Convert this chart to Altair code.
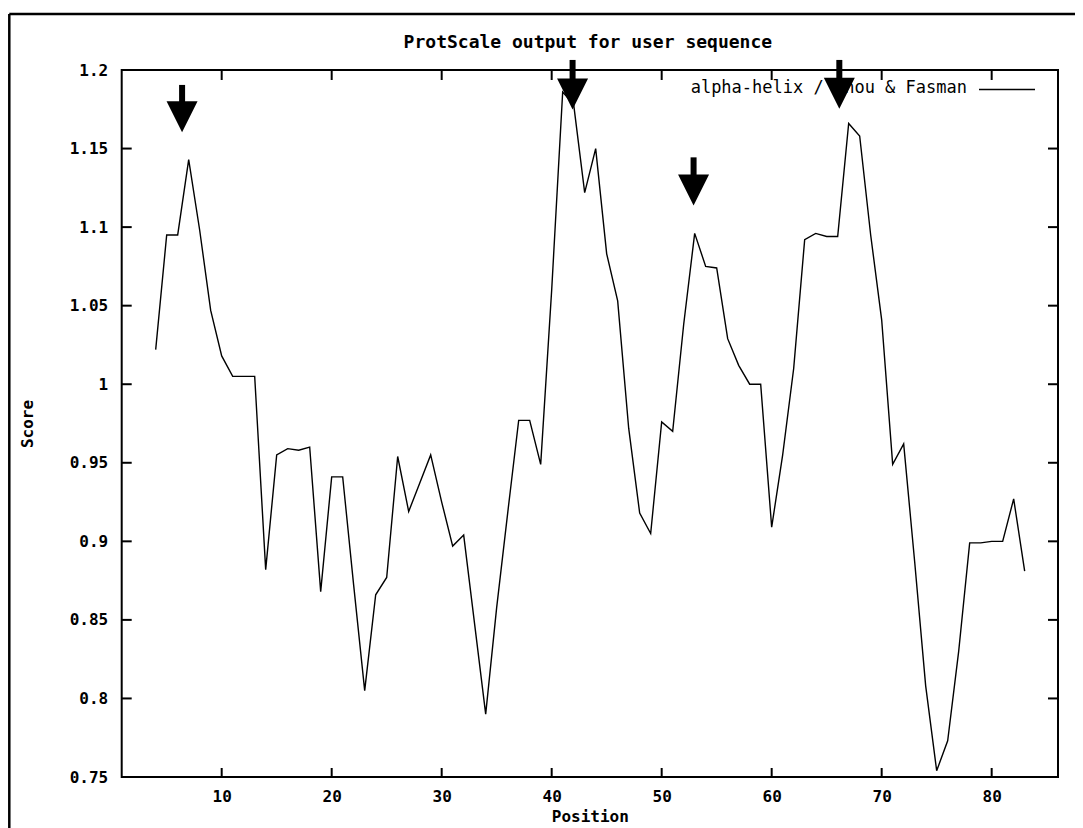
import altair as alt
import pandas as pd

# ---- data ----
positions = list(range(4, 84))
scores = [1.022, 1.095, 1.095, 1.143, 1.098, 1.047, 1.018, 1.005, 1.005, 1.005,
          0.882, 0.955, 0.959, 0.958, 0.960, 0.868, 0.941, 0.941, 0.872, 0.805,
          0.866, 0.877, 0.954, 0.919, 0.937, 0.955, 0.925, 0.897, 0.904, 0.847,
          0.790, 0.858, 0.918, 0.977, 0.977, 0.949, 1.060, 1.186, 1.178, 1.122,
          1.150, 1.083, 1.053, 0.972, 0.918, 0.905, 0.976, 0.970, 1.038, 1.096,
          1.075, 1.074, 1.029, 1.012, 1.000, 1.000, 0.909, 0.955, 1.010, 1.092,
          1.096, 1.094, 1.094, 1.166, 1.158, 1.095, 1.041, 0.949, 0.962, 0.887,
          0.808, 0.754, 0.773, 0.830, 0.899, 0.899, 0.900, 0.900, 0.927, 0.881]
x_ticks = [10, 20, 30, 40, 50, 60, 70, 80]
y_ticks = [0.75, 0.8, 0.85, 0.9, 0.95, 1.0, 1.05, 1.1, 1.15, 1.2]

# annotation arrows (position, shaft top, shaft bottom, arrow-head centre)
arrow_pos = [6.4, 41.9, 52.9, 66.15]
arrow_top = [1.1905, 1.2064, 1.1444, 1.2064]
arrow_base = [1.1790, 1.1940, 1.1325, 1.1940]
arrow_head = [1.1703, 1.1847, 1.1236, 1.1852]

title_text = "ProtScale output for user sequence"
legend_text = "alpha-helix / Chou & Fasman"
x_title = "Position"
y_title = "Score"

W, H = 936.3, 707
FONT = "DejaVu Sans Mono"

df = pd.DataFrame({"Position": positions, "Score": scores})
arrows = pd.DataFrame({"x": arrow_pos, "top": arrow_top, "base": arrow_base, "head": arrow_head})
xt = pd.DataFrame({"t": x_ticks})
yt = pd.DataFrame({"t": y_ticks})
one = pd.DataFrame({"a": [0]})

xs = alt.Scale(domain=[0.91, 86.03], nice=False, zero=False)
ys = alt.Scale(domain=[0.75, 1.2], nice=False, zero=False)

x_axis = alt.Axis(values=x_ticks, ticks=False, domain=False, grid=False,
                  labelFont=FONT, labelFontWeight="bold", labelFontSize=16,
                  labelColor="black", labelPadding=11, labelFlush=False,
                  labelOverlap=False,
                  titleFont=FONT, titleFontWeight="bold", titleFontSize=16,
                  titleColor="black", titleBaseline="top", titleY=31)
y_axis = alt.Axis(values=y_ticks, ticks=False, domain=False, grid=False,
                  labelExpr="format(datum.value, '~g')",
                  labelFont=FONT, labelFontWeight="bold", labelFontSize=16,
                  labelColor="black", labelPadding=14, labelFlush=False,
                  labelOverlap=False,
                  titleFont=FONT, titleFontWeight="bold", titleFontSize=16,
                  titleColor="black", titleAngle=270, titleAlign="center",
                  titleBaseline="middle", titleX=-94.4, titleY=H / 2)

line = alt.Chart(df).mark_line(color="black", strokeWidth=1.4).encode(
    x=alt.X("Position:Q", scale=xs, axis=x_axis, title=x_title),
    y=alt.Y("Score:Q", scale=ys, axis=y_axis, title=y_title),
)

# inward ticks (bottom/top and left/right)
xtick_b = alt.Chart(xt).mark_rule(color="black", strokeWidth=2).encode(
    x=alt.X("t:Q", scale=xs, title=x_title), y=alt.value(H), y2=alt.value(H - 9))
xtick_t = alt.Chart(xt).mark_rule(color="black", strokeWidth=2).encode(
    x=alt.X("t:Q", scale=xs, title=x_title), y=alt.value(0), y2=alt.value(10))
ytick_l = alt.Chart(yt).mark_rule(color="black", strokeWidth=2).encode(
    y=alt.Y("t:Q", scale=ys, title=y_title), x=alt.value(0), x2=alt.value(10))
ytick_r = alt.Chart(yt).mark_rule(color="black", strokeWidth=2).encode(
    y=alt.Y("t:Q", scale=ys, title=y_title), x=alt.value(W - 10), x2=alt.value(W))

# outer frame of the figure
frame_top = alt.Chart(one).mark_rule(color="black", strokeWidth=2.5).encode(
    x=alt.value(-112.4), x2=alt.value(W + 17), y=alt.value(-56))
frame_left = alt.Chart(one).mark_rule(color="black", strokeWidth=2.5).encode(
    x=alt.value(-112.4), y=alt.value(-56), y2=alt.value(H + 51))

# title
title_mark = alt.Chart(one).mark_text(text=title_text, align="center", baseline="alphabetic",
                                      font=FONT, fontSize=18, fontWeight="bold",
                                      color="black").encode(
    x=alt.value(W / 2 - 2), y=alt.value(-22))

# key
key_text = alt.Chart(one).mark_text(text=legend_text, align="right", baseline="middle",
                                    font=FONT, fontSize=17, color="black").encode(
    x=alt.value(845.3), y=alt.value(18))
key_line = alt.Chart(one).mark_rule(color="black", strokeWidth=1.3).encode(
    x=alt.value(857.3), x2=alt.value(913.3), y=alt.value(19.5))

# arrows
shaft = alt.Chart(arrows).mark_rule(color="black", strokeWidth=6, strokeCap="butt").encode(
    x=alt.X("x:Q", scale=xs, title=x_title),
    y=alt.Y("top:Q", scale=ys, title=y_title), y2="base:Q")
head = alt.Chart(arrows).mark_point(shape="M-1,-1L1,-1L0,1Z", size=961, filled=True,
                                    color="black", opacity=1, strokeWidth=0).encode(
    x=alt.X("x:Q", scale=xs, title=x_title),
    y=alt.Y("head:Q", scale=ys, title=y_title))

chart = alt.layer(
    line, xtick_b, xtick_t, ytick_l, ytick_r, frame_top, frame_left,
    title_mark, key_text, key_line, shaft, head
).properties(
    width=W, height=H,
    autosize=alt.AutoSizeParams(type="none"),
    padding={"left": 113.7, "top": 62, "right": 17, "bottom": 51},
).configure(
    background="white",
    view=alt.ViewConfig(stroke="black", strokeWidth=2),
)

chart.save("out.html", embed_options={"renderer": "svg", "actions": False})
